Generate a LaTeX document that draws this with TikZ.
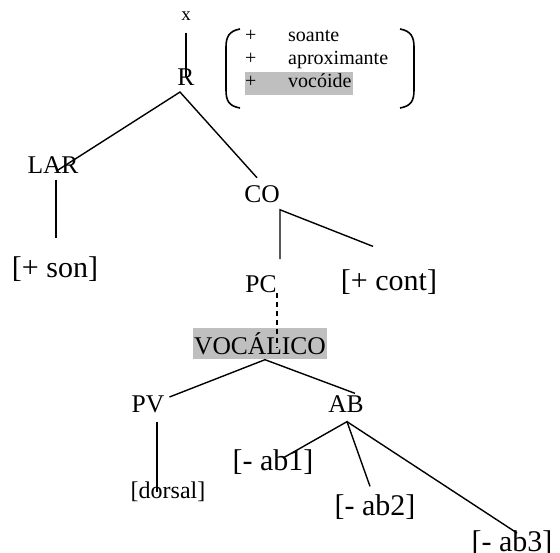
\documentclass[tikz,border=0pt]{standalone}
\usepackage{fontspec}
\setmainfont{Liberation Serif}
\usetikzlibrary{calc}
\begin{document}
\begin{tikzpicture}[x=1pt,y=-1pt,
  lab/.style={inner sep=0pt,font=\fontsize{25.5}{30}\selectfont},
  feat/.style={inner sep=0pt,font=\fontsize{30}{36}\selectfont},
  small/.style={inner sep=0pt,anchor=base west,font=\fontsize{20}{24}\selectfont},
  edge/.style={line width=1.4pt},
  shade/.style={fill=black!25}]
\useasboundingbox (0,0) rectangle (560,553);
% matrix box
\fill[shade] (245,72) rectangle (353,95);
\node[small] (p1) at (245,42) {+};
\node[small] (p2) at (245,65) {+};
\node[small] (p3) at (245,88) {+};
\node[small] (f1) at (288,42) {soante};
\node[small] (f2) at (288,65) {aproximante};
\node[small] (f3) at (288,88) {vocóide};
\draw[line width=1.6pt] (240,29) .. controls (229,31) and (226,37) .. (226,47) -- (226,90) .. controls (226,101) and (229,106) .. (240,108);
\draw[line width=1.6pt] (400,29) .. controls (411,31) and (414,37) .. (414,47) -- (414,90) .. controls (414,101) and (411,106) .. (400,108);
% tree nodes
\node[inner sep=0pt,font=\fontsize{19}{22}\selectfont] (x) at (186,16) {x};
\node[lab] (R) at (186,77) {R};
\node[lab] (LAR) at (53,165) {LAR};
\node[lab] (CO) at (262,194) {CO};
\node[feat] (son) at (55,269) {[+ son]};
\node[lab] (PC) at (261,284) {PC};
\node[feat] (cont) at (389,282) {[+ cont]};
\node[lab,shade,inner xsep=1pt,minimum height=31pt] (VOC) at (260,344) {VOCÁLICO};
\node[lab] (PV) at (148,404) {PV};
\node[lab] (AB) at (346,404) {AB};
\node[inner sep=0pt,font=\fontsize{24}{28}\selectfont] (dorsal) at (168,492) {[dorsal]};
\node[feat] (ab1) at (273,462) {[- ab1]};
\node[feat] (ab2) at (375,507) {[- ab2]};
\node[feat] (ab3) at (512,543) {[- ab3]};
% connectors
\draw[edge] ($(x.south)+(0,12)$) -- (R.center);
\draw[edge] ($(LAR.center)+(5,5)$) -- ($(R.south)+(-6,6.5)$) -- ($(CO.north)+(-5,-7.5)$);
\draw[edge] ($(LAR.south)+(3,6)$) -- ($(son.north)+(1,-18)$);
\draw[edge] ($(PC.north)+(19,-16)$) -- ($(CO.south)+(18,7)$) -- ($(cont.north)+(-16,-23)$);
\draw[line width=1.4pt,dash pattern=on 5pt off 4pt] ($(PC.south)+(16,0)$) -- ($(VOC.center)+(17,4)$);
\draw[edge] ($(PV.east)+(5,-7)$) -- ($(VOC.south)+(5,0)$) -- ($(AB.north)+(9,-2)$);
\draw[edge] ($(PV.south)+(9,9)$) -- ($(dorsal.center)+(-11,0)$);
\draw[edge] ($(ab1.center)+(10,-4)$) -- ($(AB.south)+(1,9)$) -- ($(ab2.north)+(-5,-8)$);
\draw[edge] ($(AB.south)+(1,9)$) -- ($(ab3.center)+(5,-10)$);
\end{tikzpicture}
\end{document}
